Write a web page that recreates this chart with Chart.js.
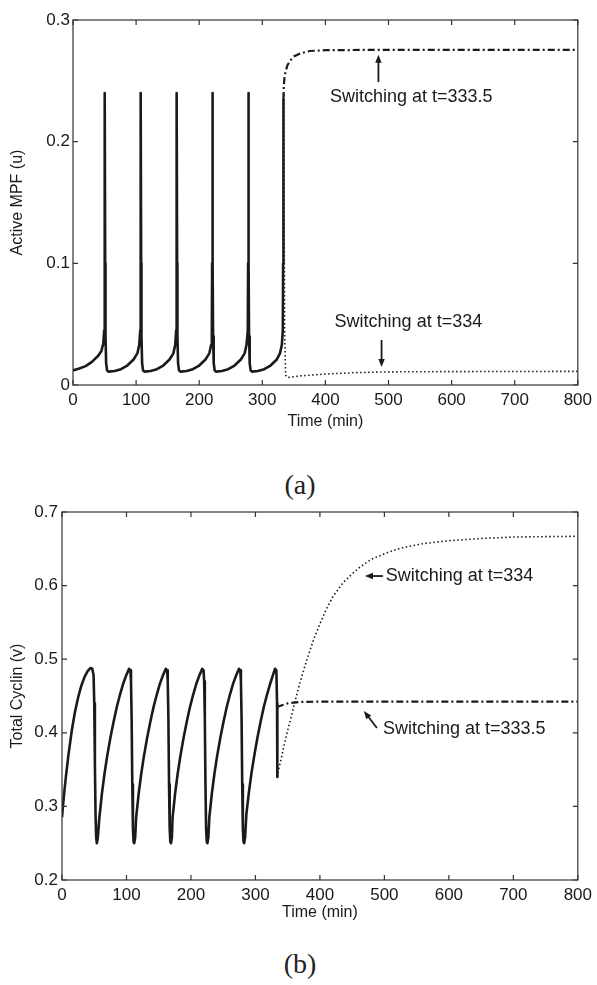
<!DOCTYPE html>
<html><head><meta charset="utf-8">
<script src="https://cdn.jsdelivr.net/npm/chart.js@4"></script>
<style>
html,body{margin:0;padding:0;background:#fff;}
body{width:597px;height:985px;position:relative;overflow:hidden;}
.box{position:absolute;left:0;width:597px;}
.lab{position:absolute;left:0;width:600px;text-align:center;font-family:"Liberation Serif","DejaVu Serif",serif;font-size:28px;line-height:32px;color:#222;}
</style></head><body>
<div class="box" style="top:0;height:440px"><canvas id="ca"></canvas></div>
<div class="lab" style="top:469px">(a)</div>
<div class="box" style="top:490px;height:450px"><canvas id="cb"></canvas></div>
<div class="lab" style="top:948px">(b)</div>
<script>
// ---------- shared axis ----------
const xTickLabels = ['0','100','200','300','400','500','600','700','800'];

// ---------- panel (a): Active MPF (u) ----------
const aYTickLabels = ['0','0.1','0.2','0.3'];
const aSolidTime = [0,10,20,30,40,45,48,49.5,50,50.5,51,51.5,52.5,54,56,
  66,76,86,96,102,105,106.5,107,107.5,108,108.5,109.5,111,113,
  123,133,143,153,159,162,163.5,164,164.5,165,165.5,166.5,168,170,
  180,190,200,210,216,219,220,220.5,221,221.5,222,223,224.5,226.5,
  236,246,256,266,272,275,277,277.5,278,278.5,279,280,281.5,283.5,
  293,303,313,323,328,331,332.5,333,333.5];
const aSolidU = [0.012,0.0135,0.0155,0.019,0.024,0.028,0.034,0.045,0.1,0.24,0.1,0.04,0.018,0.012,0.011,
  0.0115,0.013,0.016,0.021,0.026,0.033,0.045,0.1,0.24,0.1,0.04,0.018,0.012,0.011,
  0.0115,0.013,0.016,0.021,0.026,0.033,0.045,0.1,0.24,0.1,0.04,0.018,0.012,0.011,
  0.0115,0.013,0.016,0.021,0.026,0.033,0.045,0.1,0.24,0.1,0.04,0.018,0.012,0.011,
  0.0115,0.013,0.016,0.021,0.026,0.033,0.045,0.1,0.24,0.1,0.04,0.018,0.012,0.011,
  0.0115,0.013,0.016,0.021,0.026,0.033,0.045,0.1,0.235];
const aSwitch3335Time = [333.5,334,335,337,340,345,350,360,375,400,500,800];
const aSwitch3335U = [0.235,0.245,0.252,0.258,0.263,0.267,0.27,0.2725,0.2745,0.2752,0.2755,0.2755];
const aSwitch334Time = [333.5,334,334.5,335.5,337,340,360,400,450,500,600,800];
const aSwitch334U = [0.235,0.24,0.15,0.04,0.008,0.0062,0.0075,0.009,0.0102,0.0108,0.011,0.0112];

// ---------- panel (b): Total Cyclin (v) ----------
const bYTickLabels = ['0.2','0.3','0.4','0.5','0.6','0.7'];
const bSolidTime = [0,3,6,10,15,20,25,30,35,40,44,47,49,50,51,52,53,54,55.5,
  58,62,66,70,75,80,85,90,95,100,104,106,107,108,109,110,111,112,113.5,
  115,119,123,127,132,137,142,147,152,157,161,163,164,165,166,167,168,169,170.5,
  171.5,175.5,179.5,183.5,188.5,193.5,198.5,203.5,208.5,213.5,217.5,219.5,220.5,221.5,222.5,223.5,224.5,225.5,227,
  228.5,232.5,236.5,240.5,245.5,250.5,255.5,260.5,265.5,270.5,274.5,276.5,277.5,278.5,279.5,280.5,281.5,282.5,284,
  286,290,294,298,303,308,313,318,323,327,330.5,332.5,333.5,334];
const bSolidV = [0.285,0.315,0.34,0.37,0.402,0.428,0.448,0.464,0.476,0.484,0.488,0.487,0.478,0.44,0.36,0.29,0.258,0.25,0.257,
  0.285,0.318,0.345,0.368,0.393,0.415,0.435,0.452,0.467,0.479,0.487,0.485,0.47,0.42,0.33,0.27,0.252,0.25,0.258,
  0.285,0.318,0.345,0.368,0.393,0.415,0.435,0.452,0.467,0.479,0.487,0.485,0.47,0.42,0.33,0.27,0.252,0.25,0.258,
  0.285,0.318,0.345,0.368,0.393,0.415,0.435,0.452,0.467,0.479,0.487,0.485,0.47,0.42,0.33,0.27,0.252,0.25,0.258,
  0.285,0.318,0.345,0.368,0.393,0.415,0.435,0.452,0.467,0.479,0.487,0.485,0.47,0.42,0.33,0.27,0.252,0.25,0.258,
  0.29,0.32,0.346,0.368,0.393,0.415,0.435,0.452,0.467,0.478,0.487,0.485,0.44,0.34];
const bSwitch3335Time = [333.5,340,350,370,400,800];
const bSwitch3335V = [0.435,0.437,0.44,0.442,0.4423,0.4423];
const bSwitch334Time = [334,336,340,345,350,355,360,369,380,390,400,410,420,436,450,462,480,508,530,560,600,650,700,800];
const bSwitch334V = [0.34,0.35,0.365,0.385,0.403,0.42,0.438,0.468,0.5,0.526,0.548,0.568,0.585,0.604,0.616,0.625,0.636,0.646,0.652,0.657,0.661,0.664,0.666,0.667];

// ---------- helpers ----------
const pts = (xs, ys) => xs.map((x, i) => ({x, y: ys[i]}));
const SANS = '"Liberation Sans", Arial, sans-serif';
const INK = '#1a1a1a';

const framePlugin = {
  id: 'frame',
  afterDatasetsDraw(chart, args, opts) {
    const {ctx, chartArea: a, scales: {x, y}} = chart;
    ctx.save();
    ctx.strokeStyle = '#333'; ctx.lineWidth = 1.2;
    ctx.strokeRect(a.left, a.top, a.right - a.left, a.bottom - a.top);
    const L = 5;
    ctx.beginPath();
    x.ticks.forEach(t => { const p = x.getPixelForValue(t.value);
      ctx.moveTo(p, a.bottom); ctx.lineTo(p, a.bottom - L);
      ctx.moveTo(p, a.top); ctx.lineTo(p, a.top + L); });
    y.ticks.forEach(t => { const p = y.getPixelForValue(t.value);
      ctx.moveTo(a.left, p); ctx.lineTo(a.left + L, p);
      ctx.moveTo(a.right, p); ctx.lineTo(a.right - L, p); });
    ctx.stroke();
    (opts.notes || []).forEach(n => {
      ctx.fillStyle = INK; ctx.strokeStyle = INK;
      ctx.font = '18px ' + SANS;
      ctx.textAlign = n.align; ctx.textBaseline = 'middle';
      ctx.fillText(n.text, x.getPixelForValue(n.tx), y.getPixelForValue(n.ty));
      const x1 = x.getPixelForValue(n.ax1), y1 = y.getPixelForValue(n.ay1);
      const x2 = x.getPixelForValue(n.ax2), y2 = y.getPixelForValue(n.ay2);
      const ang = Math.atan2(y2 - y1, x2 - x1), H = 8, W = 3.2;
      ctx.lineWidth = 1.8;
      ctx.beginPath(); ctx.moveTo(x1, y1);
      ctx.lineTo(x2 - (H - 1) * Math.cos(ang), y2 - (H - 1) * Math.sin(ang)); ctx.stroke();
      ctx.beginPath(); ctx.moveTo(x2, y2);
      ctx.lineTo(x2 - H * Math.cos(ang) - W * Math.sin(ang), y2 - H * Math.sin(ang) + W * Math.cos(ang));
      ctx.lineTo(x2 - H * Math.cos(ang) + W * Math.sin(ang), y2 - H * Math.sin(ang) - W * Math.cos(ang));
      ctx.closePath(); ctx.fill();
    });
    ctx.restore();
  }
};

function makeChart(id, cfg) {
  return new Chart(document.getElementById(id), {
    type: 'line',
    data: { datasets: [
      { data: pts(cfg.s[0], cfg.s[1]), borderColor: INK, borderWidth: 2.6, borderJoinStyle: 'round' },
      { data: pts(cfg.d[0], cfg.d[1]), borderColor: INK, borderWidth: 2.2, borderDash: [7, 3, 2, 3] },
      { data: pts(cfg.o[0], cfg.o[1]), borderColor: INK, borderWidth: 1.6, borderDash: [1.5, 2.5] }
    ].map(d => Object.assign({ pointRadius: 0, fill: false, tension: 0 }, d)) },
    options: {
      responsive: true, maintainAspectRatio: false, animation: false, events: [],
      layout: { padding: cfg.pad },
      plugins: { legend: { display: false }, tooltip: { enabled: false }, frame: { notes: cfg.notes } },
      scales: {
        x: { type: 'linear', min: 0, max: 800,
          grid: { display: false, drawTicks: false }, border: { display: false },
          ticks: { stepSize: 100, padding: cfg.xPad, color: INK, font: { family: SANS, size: 17 },
            callback: (v, i) => xTickLabels[i] },
          title: { display: true, text: 'Time (min)', color: INK, font: { family: SANS, size: 16 },
            padding: { top: 0, bottom: cfg.xTitlePad } },
          afterFit: s => { s.height = cfg.xH; } },
        y: { type: 'linear', min: cfg.ymin, max: cfg.ymax,
          grid: { display: false, drawTicks: false }, border: { display: false },
          ticks: { stepSize: 0.1, padding: cfg.yPad, color: INK, font: { family: SANS, size: 17 },
            callback: (v, i) => cfg.yLabels[i] },
          title: { display: true, text: cfg.yTitle, color: INK, font: { family: SANS, size: 16 },
            padding: { top: 8.4, bottom: 0 } },
          afterFit: s => { s.width = cfg.yW; } }
      }
    },
    plugins: [framePlugin]
  });
}

makeChart('ca', {
  s: [aSolidTime, aSolidU], d: [aSwitch3335Time, aSwitch3335U], o: [aSwitch334Time, aSwitch334U],
  ymin: 0, ymax: 0.3, yLabels: aYTickLabels, yTitle: 'Active MPF (u)',
  pad: { top: 20, right: 17, bottom: 0, left: 0 }, xH: 55, yW: 73, xPad: 5, yPad: 3, xTitlePad: 8.4,
  notes: [
    { text: 'Switching at t=333.5', align: 'center', tx: 536, ty: 0.2367, ax1: 484, ay1: 0.249, ax2: 484, ay2: 0.2715 },
    { text: 'Switching at t=334', align: 'center', tx: 531.5, ty: 0.0518, ax1: 489, ay1: 0.037, ax2: 489, ay2: 0.0148 }
  ]
});

makeChart('cb', {
  s: [bSolidTime, bSolidV], d: [bSwitch3335Time, bSwitch3335V], o: [bSwitch334Time, bSwitch334V],
  ymin: 0.2, ymax: 0.7, yLabels: bYTickLabels, yTitle: 'Total Cyclin (v)',
  pad: { top: 22, right: 19, bottom: 0, left: 0 }, xH: 60, yW: 62, xPad: 5, yPad: 4, xTitlePad: 17.4,
  notes: [
    { text: 'Switching at t=334', align: 'left', tx: 502, ty: 0.613, ax1: 497.7, ay1: 0.613, ax2: 469.8, ay2: 0.613 },
    { text: 'Switching at t=333.5', align: 'left', tx: 497.7, ty: 0.405, ax1: 488.4, ay1: 0.4065, ax2: 468.2, ay2: 0.4296 }
  ]
});
</script>
</body></html>
